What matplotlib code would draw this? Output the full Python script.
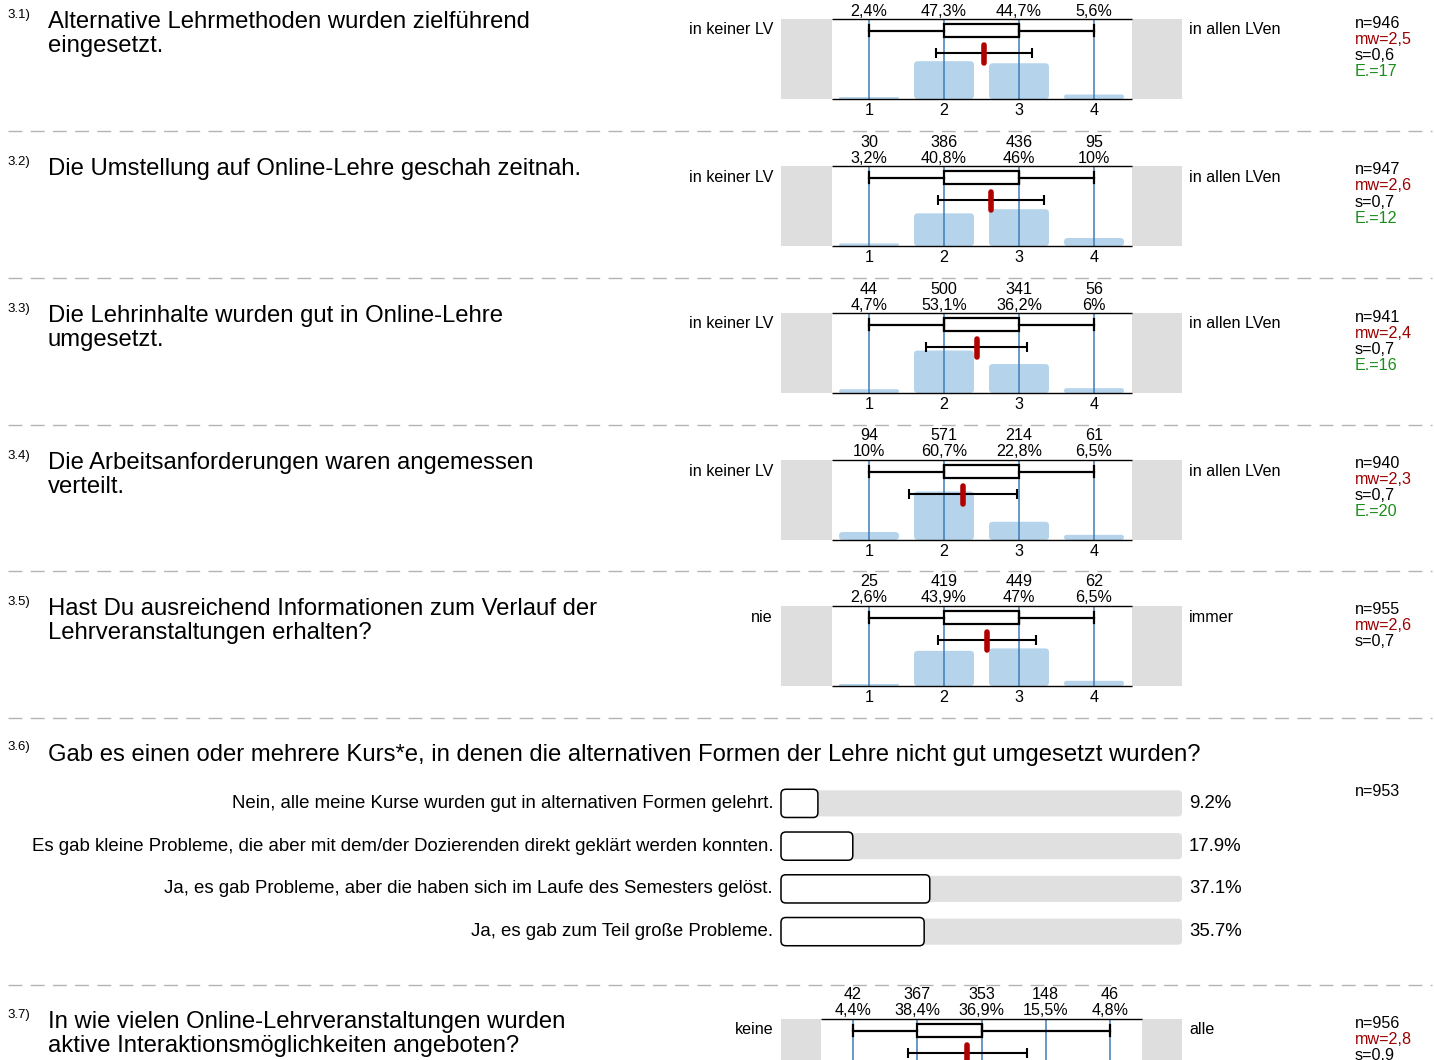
import numpy as np
import matplotlib.pyplot as plt
from matplotlib.patches import FancyBboxPatch
from matplotlib.lines import Line2D

plt.rcParams['font.family'] = ['Liberation Sans', 'DejaVu Sans']

W, H = 1434, 1060

# ---------------- Daten ----------------
nummern = ["3.1)", "3.2)", "3.3)", "3.4)", "3.5)", "3.7)"]
fragen = [
    ["Alternative Lehrmethoden wurden zielführend", "eingesetzt."],
    ["Die Umstellung auf Online-Lehre geschah zeitnah."],
    ["Die Lehrinhalte wurden gut in Online-Lehre", "umgesetzt."],
    ["Die Arbeitsanforderungen waren angemessen", "verteilt."],
    ["Hast Du ausreichend Informationen zum Verlauf der", "Lehrveranstaltungen erhalten?"],
    ["In wie vielen Online-Lehrveranstaltungen wurden", "aktive Interaktionsmöglichkeiten angeboten?"],
]
pol_links = ["in keiner LV", "in keiner LV", "in keiner LV", "in keiner LV", "nie", "keine"]
pol_rechts = ["in allen LVen", "in allen LVen", "in allen LVen", "in allen LVen", "immer", "alle"]

counts_31 = [23, 447, 423, 53]
counts_32 = [30, 386, 436, 95]
counts_33 = [44, 500, 341, 56]
counts_34 = [94, 571, 214, 61]
counts_35 = [25, 419, 449, 62]
counts_37 = [42, 367, 353, 148, 46]

pct_31 = [2.4, 47.3, 44.7, 5.6]
pct_32 = [3.2, 40.8, 46, 10]
pct_33 = [4.7, 53.1, 36.2, 6]
pct_34 = [10, 60.7, 22.8, 6.5]
pct_35 = [2.6, 43.9, 47, 6.5]
pct_37 = [4.4, 38.4, 36.9, 15.5, 4.8]

alle_counts = [counts_31, counts_32, counts_33, counts_34, counts_35, counts_37]
alle_pct = [pct_31, pct_32, pct_33, pct_34, pct_35, pct_37]

n_werte = [946, 947, 941, 940, 955, 956]
mw_werte = ["2,5", "2,6", "2,4", "2,3", "2,6", "2,8"]
s_werte = ["0,6", "0,7", "0,7", "0,7", "0,7", "0,9"]
e_werte = [17, 12, 16, 20, None, None]

# Quartile (Boxplot)
box_q1 = [2, 2, 2, 2, 2, 2]
box_med = [3, 3, 2, 2, 3, 3]
box_q3 = [3, 3, 3, 3, 3, 3]

# Frage 3.6
antworten_36 = [
    "Nein, alle meine Kurse wurden gut in alternativen Formen gelehrt.",
    "Es gab kleine Probleme, die aber mit dem/der Dozierenden direkt geklärt werden konnten.",
    "Ja, es gab Probleme, aber die haben sich im Laufe des Semesters gelöst.",
    "Ja, es gab zum Teil große Probleme.",
]
anteile_36 = [9.2, 17.9, 37.1, 35.7]
n_36 = 953

# ---------------- Layout (Pixel) ----------------
block_tops = [19, 166, 313, 460, 606, 1019]
trenner_y = [131, 278, 425, 571, 718, 985]

fig = plt.figure(figsize=(W / 100, H / 100), dpi=100)
fig.patch.set_facecolor('white')

FS_TITEL = 17.2
FS_KLEIN = 11.6
FS_36 = 13.4


def fx(x):
    return x / W


def fy(y):
    return 1 - y / H


def px_axes(x0, y0, x1, y1):
    return fig.add_axes([x0 / W, 1 - y1 / H, (x1 - x0) / W, (y1 - y0) / H])


def fmt_pct(p):
    return f"{p:g}".replace('.', ',') + "%"


PT = 0.72  # Punkte pro Pixel bei dpi=100

# Trennlinien
for y in trenner_y:
    fig.add_artist(Line2D([fx(8), fx(1432)], [fy(y), fy(y)], color='#b4b4b4',
                          lw=1.0, dashes=(10, 6)))


def likert_block(i):
    top = block_tops[i]
    counts = alle_counts[i]
    pct = alle_pct[i]
    k = len(counts)
    cats = np.arange(1, k + 1)
    unit = 75.0 if k == 4 else 64.2
    grau = (401 - unit * k) / 2

    # Texte links
    fig.text(fx(7), fy(top - 4), nummern[i], fontsize=9.5, va='center', ha='left')
    for j, zeile in enumerate(fragen[i]):
        fig.text(fx(48), fy(top + 3 + 24 * j), zeile, fontsize=FS_TITEL, va='center', ha='left')
    fig.text(fx(773), fy(top + 11), pol_links[i], fontsize=FS_KLEIN, va='center', ha='right')
    fig.text(fx(1189), fy(top + 11), pol_rechts[i], fontsize=FS_KLEIN, va='center', ha='left')

    # Kennzahlen rechts
    stats = [(f"n={n_werte[i]}", 'black'), (f"mw={mw_werte[i]}", '#9a0000'),
             (f"s={s_werte[i]}", 'black')]
    if e_werte[i] is not None:
        stats.append((f"E.={e_werte[i]}", '#1a8c1a'))
    for j, (t, c) in enumerate(stats):
        fig.text(fx(1355), fy(top + 4 + 16 * j), t, fontsize=FS_KLEIN, color=c,
                 va='center', ha='left')

    ax = px_axes(781, top, 1182, top + 80)
    xl = (0.5 - grau / unit, k + 0.5 + grau / unit)
    ax.set_xlim(*xl)
    ax.set_ylim(0, 100)
    for s in ax.spines.values():
        s.set_visible(False)
    ax.set_yticks([])
    ax.set_xticks(cats)
    ax.set_xticklabels([str(c) for c in cats], fontsize=FS_KLEIN)
    ax.tick_params(axis='x', length=0, pad=3)

    ax.axvspan(xl[0], 0.5, color='#dedede', lw=0)
    ax.axvspan(k + 0.5, xl[1], color='#dedede', lw=0)
    ax.hlines([0, 100], 0.5, k + 0.5, color='black', lw=1.0, clip_on=False, zorder=7)

    # Balken mit runden Ecken
    asp = 1.25 * unit
    for c, p in zip(cats, pct):
        r = min(0.05, p / asp / 2)
        ax.add_patch(FancyBboxPatch((c - 0.4, 0), 0.8, p,
                                    boxstyle=f"round,pad=0,rounding_size={r}",
                                    mutation_aspect=asp, fc='#b5d4eb', ec='none', zorder=2))
    ax.vlines(cats, 0, 100, color='#3f7db8', lw=1.1, zorder=3)

    # Anzahl und Prozent oben
    for c, n, p in zip(cats, counts, pct):
        ax.annotate(str(n), (c, 100), xytext=(0, 24 * PT), textcoords='offset points',
                    ha='center', va='center', fontsize=FS_KLEIN, annotation_clip=False)
        ax.annotate(fmt_pct(p), (c, 100), xytext=(0, 8 * PT), textcoords='offset points',
                    ha='center', va='center', fontsize=FS_KLEIN, annotation_clip=False)

    # Boxplot
    st = dict(whislo=1, q1=box_q1[i], med=box_med[i], q3=box_q3[i], whishi=k, fliers=[])
    ax.bxp([st], positions=[85.6], widths=16.5, orientation='horizontal',
           showfliers=False, manage_ticks=False, patch_artist=True, capwidths=[14],
           boxprops=dict(facecolor='white', edgecolor='black', lw=1.6),
           whiskerprops=dict(color='black', lw=1.6),
           capprops=dict(color='black', lw=1.6),
           medianprops=dict(color='black', lw=1.6), zorder=4)

    # Mittelwert und Standardabweichung aus den Häufigkeiten
    w = np.array(counts, dtype=float)
    mean = np.sum(w * cats) / w.sum()
    sd = np.sqrt(np.sum(w * (cats - mean) ** 2) / w.sum())
    ax.errorbar(mean, 57.5, xerr=sd, fmt='none', ecolor='black', elinewidth=1.5,
                capsize=3.6, capthick=1.5, zorder=5)
    ax.plot([mean, mean], [45, 68], color='#b00000', lw=4, solid_capstyle='round', zorder=6)


for i in range(6):
    likert_block(i)

# ---------------- Frage 3.6 ----------------
fig.text(fx(7), fy(747), "3.6)", fontsize=9.5, va='center', ha='left')
fig.text(fx(48), fy(755),
         "Gab es einen oder mehrere Kurs*e, in denen die alternativen Formen der Lehre nicht gut umgesetzt wurden?",
         fontsize=FS_TITEL, va='center', ha='left')
fig.text(fx(1355), fy(792), f"n={n_36}", fontsize=FS_KLEIN, va='center', ha='left')

ax6 = px_axes(781, 782, 1182, 953)
ax6.set_xlim(0, 100)
ax6.set_ylim(3.5, -0.5)
ax6.axis('off')
asp6 = (1 / 42.7) / (1 / 4.01)
for j, (lab, a) in enumerate(zip(antworten_36, anteile_36)):
    ax6.add_patch(FancyBboxPatch((0, j - 0.305), 100, 0.61,
                                 boxstyle="round,pad=0,rounding_size=1.0",
                                 mutation_aspect=asp6, fc='#e0e0e0', ec='none', zorder=1))
    ax6.add_patch(FancyBboxPatch((0, j - 0.33), a, 0.66,
                                 boxstyle="round,pad=0,rounding_size=1.2",
                                 mutation_aspect=asp6, fc='white', ec='black', lw=1.1,
                                 zorder=2, clip_on=False))
    ax6.annotate(lab, (0, j), xytext=(-8 * PT, 0), textcoords='offset points',
                 ha='right', va='center', fontsize=FS_36, annotation_clip=False)
    ax6.annotate(f"{a}%", (100, j), xytext=(7 * PT, 0), textcoords='offset points',
                 ha='left', va='center', fontsize=FS_36, annotation_clip=False)

fig.savefig('out.png', dpi=100, facecolor='white')
